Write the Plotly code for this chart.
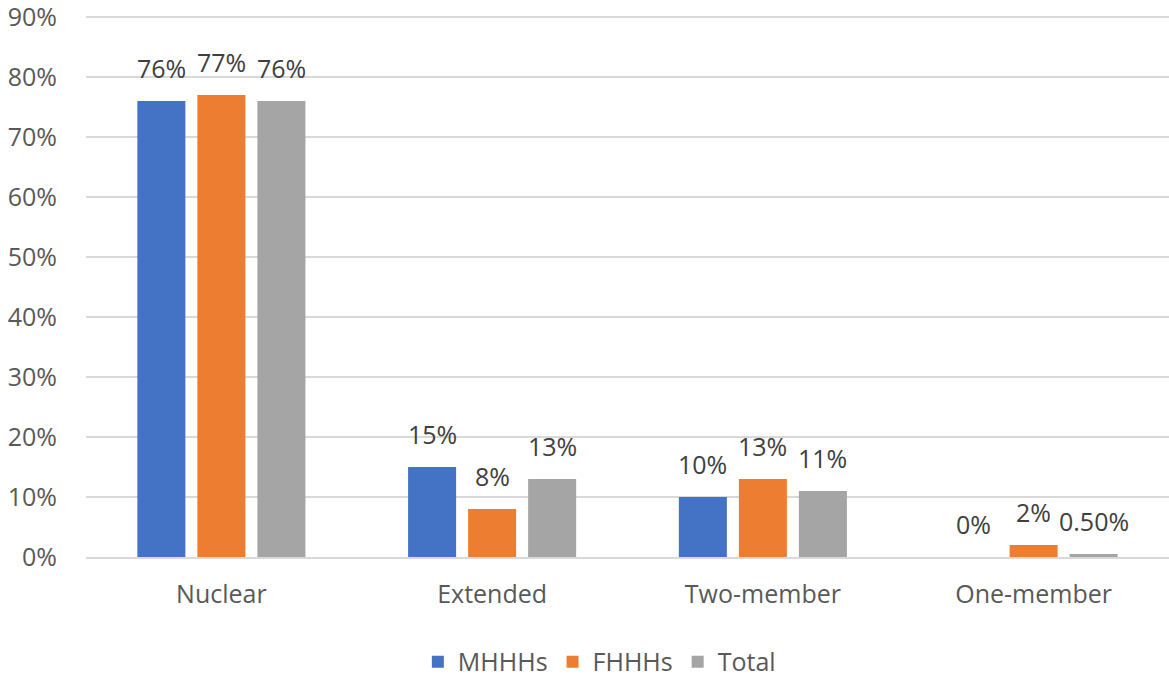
import plotly.graph_objects as go

categories = ["Nuclear", "Extended", "Two-member", "One-member"]
mhhhs = [76, 15, 10, 0]
fhhhs = [77, 8, 13, 2]
total = [76, 13, 11, 0.5]
mhhhs_text = ["76%", "15%", "10%", "0%"]
fhhhs_text = ["77%", "8%", "13%", "2%"]
total_text = ["76%", "13%", "11%", "0.50%"]
y_ticks = [0, 10, 20, 30, 40, 50, 60, 70, 80, 90]
y_tick_labels = [f"{v}%" for v in y_ticks]

FONT = "Open Sans, Liberation Sans, sans-serif"
FS = 25

series = [
    ("MHHHs", mhhhs, mhhhs_text, "#4472C4", -60),
    ("FHHHs", fhhhs, fhhhs_text, "#ED7D31", 0),
    ("Total", total, total_text, "#A5A5A5", 60),
]

fig = go.Figure()
for name, vals, txt, col, shift in series:
    fig.add_trace(go.Bar(x=categories, y=vals, name=name, marker_color=col,
                         marker_line_width=0))
    for c, v, t in zip(categories, vals, txt):
        fig.add_annotation(x=c, y=v, xref="x", yref="y", text=t, showarrow=False,
                           xanchor="center", yanchor="bottom", xshift=shift, yshift=14,
                           font=dict(size=FS, color="#404040", family=FONT))

fig.update_layout(
    width=1169, height=680,
    paper_bgcolor="white", plot_bgcolor="white",
    barmode="group", bargap=0.335, bargroupgap=0.2,
    margin=dict(l=86, r=0, t=16, b=123, autoexpand=False),
    font=dict(family=FONT, color="#595959", size=FS),
    showlegend=True,
    legend=dict(orientation="h", x=0.474, xanchor="center", y=-0.194, yanchor="middle",
                font=dict(size=FS, color="#595959"), itemwidth=30, traceorder="normal"),
    xaxis=dict(showline=True, linecolor="#D9D9D9", linewidth=1.5, ticks="",
               tickfont=dict(size=FS, color="#595959"), ticklabelstandoff=14,
               automargin=False),
    yaxis=dict(range=[0, 90.17], tickvals=y_ticks, ticktext=y_tick_labels,
               showgrid=True, gridcolor="#D9D9D9", gridwidth=1.5, zeroline=False,
               tickfont=dict(size=FS, color="#595959"), ticklabelstandoff=28,
               ticklabeloverflow="allow", automargin=False),
)

fig.write_html("out.html", config={"displayModeBar": False},
               post_script="document.body.style.margin='0px';document.body.style.overflow='hidden';")
